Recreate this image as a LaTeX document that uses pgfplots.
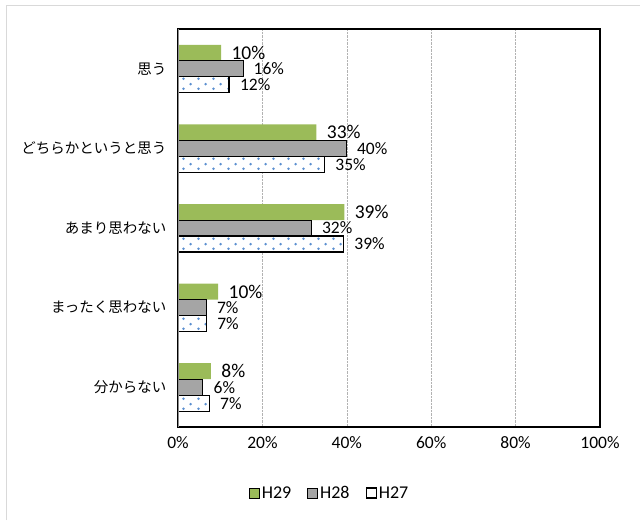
\documentclass[border=0pt]{standalone}
\usepackage{pgfplots}
\pgfplotsset{compat=1.18}
\usepackage{fontspec}
\setmainfont{Carlito}
\newfontfamily\cjk{Noto Sans CJK JP}
\usetikzlibrary{patterns.meta}
\definecolor{h29}{HTML}{9BBB59}
\definecolor{h28}{HTML}{A5A5A5}
\definecolor{dotblue}{HTML}{5B8FD0}
\tikzdeclarepattern{
  name=mydots,
  type=uncolored,
  bounding box={(0pt,0pt) and (15pt,10pt)},
  tile size={(15pt,10pt)},
  code={
    \pgfpathcircle{\pgfpoint{3.75pt}{2.5pt}}{1.5pt}
    \pgfpathcircle{\pgfpoint{11.25pt}{7.5pt}}{1.5pt}
    \pgfusepath{fill}
  }
}
\begin{document}
\begin{tikzpicture}[x=1pt,y=1pt]
\useasboundingbox (0,0) rectangle (640,520);
\draw[black!15, line width=1pt] (6,0) -- (6,514) -- (640,514);
\begin{axis}[
  at={(178pt,93pt)}, anchor=south west,
  scale only axis, width=422pt, height=398pt,
  xbar, bar width=16pt,
  xmin=0, xmax=100,
  ymin=-0.5, ymax=4.5, y dir=reverse,
  xtick={0,20,40,60,80,100},
  xticklabel={\pgfmathprintnumber{\tick}\%},
  /pgf/number format/assume math mode=true,
  xticklabel style={font=\fontsize{17.5}{20}\selectfont, yshift=-6pt},
  ytick={0,1,2,3,4},
  yticklabels={思う,どちらかというと思う,あまり思わない,まったく思わない,分からない},
  yticklabel style={font=\cjk\fontsize{14.5}{17}\selectfont, xshift=-8pt},
  major tick length=0pt,
  xmajorgrids, major grid style={densely dotted, black!30},
  axis line style={black, line width=1.1pt},
  point meta=explicit symbolic,
  nodes near coords={\pgfplotspointmeta\%},
  nodes near coords align=horizontal,
  every node near coord/.append style={anchor=west, xshift=7pt, inner ysep=0pt,
    font=\fontsize{17.5}{18}\selectfont},
  legend style={at={(0.36,-0.166)}, anchor=center, draw=none, legend columns=3,
    font=\fontsize{18}{20}\selectfont, /tikz/every even column/.style={column sep=14pt}},
  legend image code/.code={\draw[#1] (0pt,-5pt) rectangle (10pt,5pt);},
]
\addlegendimage{fill=h29, draw=none}
\addlegendimage{fill=h28, draw=black, line width=0.8pt}
\addlegendimage{fill=white, draw=black, line width=1.3pt}
\addplot[fill=h29, draw=none, bar shift=16pt,
  every node near coord/.append style={font=\fontsize{19.5}{20}\selectfont}] coordinates {
  (10.2,0) [10] (32.8,1) [33] (39.4,2) [39] (9.5,3) [10] (7.8,4) [8]};
\addplot[fill=h28, draw=black, line width=0.8pt, bar shift=0pt] coordinates {
  (15.4,0) [16] (39.9,1) [40] (31.6,2) [32] (6.7,3) [7] (5.9,4) [6]};
\addplot[fill=white, draw=black, line width=1.3pt, bar shift=-16pt,
  postaction={pattern=mydots, pattern color=dotblue}] coordinates {
  (12.1,0) [12] (34.7,1) [35] (39.2,2) [39] (6.7,3) [7] (7.4,4) [7]};
\legend{H29,H28,H27}
\draw[black!45, line width=1.6pt] (rel axis cs:0,0) -- (rel axis cs:0,1);
\end{axis}
\end{tikzpicture}
\end{document}
